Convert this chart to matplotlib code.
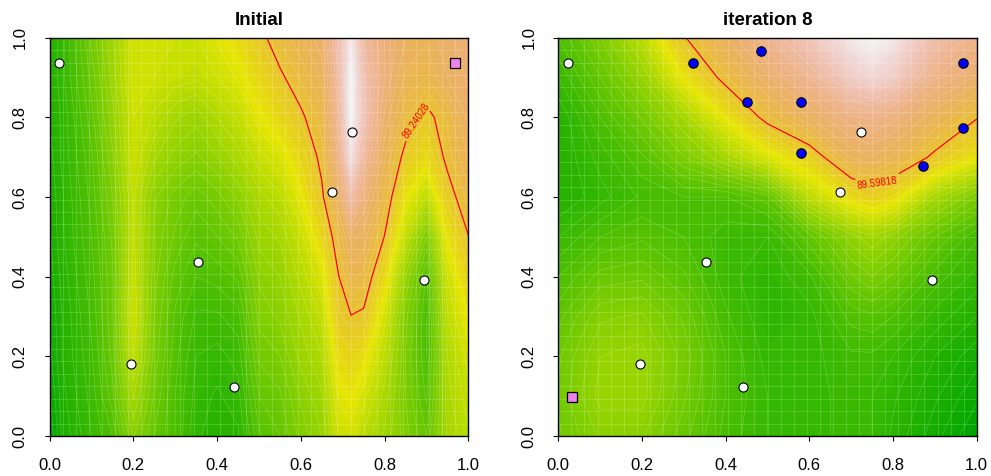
import colorsys
import numpy as np
import matplotlib
matplotlib.use("Agg")
import matplotlib.pyplot as plt

plt.rcParams['font.family'] = ['Liberation Sans', 'DejaVu Sans']

# ---- surface grids (rows follow grid_y, columns follow the panel's x grid) ----
grid_y = [0.0, 0.1, 0.2, 0.3, 0.4, 0.5, 0.6, 0.7, 0.8, 0.9, 1.0]

init_x = [0.0, 0.03, 0.1, 0.15, 0.2, 0.25, 0.3, 0.35, 0.4, 0.45, 0.5,
          0.55, 0.6, 0.65, 0.69, 0.72, 0.75, 0.8, 0.85, 0.9, 0.95, 1.0]
init_z = [
    [30, 38, 45, 50, 63, 55, 50, 43, 41, 42, 52, 55, 61, 65, 75, 76, 72, 67, 61, 55, 68, 72],
    [32, 39, 46, 54, 68, 57, 50, 44, 42, 44, 55, 57, 63, 67, 78, 80, 76, 69, 60, 52, 69, 74],
    [34, 40, 47, 56, 73, 59, 51, 45, 44, 46, 58, 60, 66, 70, 82, 84, 81, 72, 60, 50, 70, 76],
    [35, 40, 48, 57, 75, 60, 52, 47, 47, 49, 61, 63, 68, 73, 87, 89, 88, 76, 61, 50, 72, 80],
    [36, 41, 49, 57, 74, 61, 54, 50, 51, 53, 63, 65, 71, 77, 89, 96, 94, 82, 65, 52, 75, 84],
    [37, 42, 50, 58, 73, 62, 57, 53, 55, 58, 66, 68, 74, 83, 93, 101, 99, 89, 73, 60, 80, 89],
    [38, 42, 51, 60, 73, 63, 59, 56, 59, 63, 69, 72, 79, 88, 100, 114, 105, 94, 80, 72, 86, 94],
    [39, 43, 52, 62, 75, 68, 64, 62, 65, 69, 74, 77, 83, 91, 106, 125, 112, 98, 87, 82, 91, 98],
    [40, 43, 54, 64, 75, 72, 68, 66, 70, 73, 79, 83, 88, 94, 110, 130, 117, 102, 93, 87, 93, 101],
    [40, 44, 56, 66, 76, 75, 74, 73, 75, 78, 83, 88, 93, 98, 113, 130, 116, 105, 97, 95, 100, 103],
    [40, 44, 58, 67, 76, 76, 75, 75, 78, 82, 87, 93, 97, 102, 115, 127, 112, 105, 100, 98, 102, 104],
]

iter_x = [0.0, 0.1, 0.2, 0.3, 0.4, 0.5, 0.6, 0.7, 0.75, 0.8, 0.9, 1.0]
iter_z = [
    [57, 63, 63, 56, 49, 45, 44, 46, 45, 42, 36, 30],
    [58, 66, 66, 58, 50, 45, 44, 46, 45, 43, 38, 33],
    [57, 65, 66, 59, 50, 44, 44, 47, 47, 45, 40, 36],
    [54, 62, 63, 57, 48, 43, 44, 51, 52, 50, 44, 40],
    [50, 56, 57, 53, 46, 43, 47, 57, 60, 57, 49, 44],
    [45, 50, 52, 50, 46, 45, 54, 64, 67, 64, 55, 48],
    [40, 44, 48, 50, 50, 54, 72, 82, 85, 82, 68, 60],
    [40, 46, 52, 60, 68, 77, 85, 98, 100, 97, 88, 80],
    [40, 50, 58, 68, 80, 92, 100, 107, 108, 106, 98, 90],
    [45, 55, 65, 80, 92, 102, 110, 120, 123, 120, 108, 102],
    [50, 60, 72, 89, 100, 110, 118, 127, 130, 127, 115, 108],
]

# ---- design points ----
design_x = [0.023, 0.195, 0.354, 0.441, 0.674, 0.723, 0.894]
design_y = [0.936, 0.182, 0.438, 0.123, 0.613, 0.763, 0.392]
added_x = [0.323, 0.484, 0.451, 0.580, 0.580, 0.871, 0.968, 0.968]
added_y = [0.936, 0.967, 0.839, 0.839, 0.710, 0.678, 0.936, 0.774]
best_x = [0.967, 0.032]
best_y = [0.936, 0.097]

threshold = [89.24028, 89.59818]
label_pos = [(0.88, 0.79), (0.76, 0.643)]
titles = ['Initial', 'iteration 8']
z_low, z_high = 30, 130
ticks = [0.0, 0.2, 0.4, 0.6, 0.8, 1.0]


def terrain_colors(n):
    k = n // 2
    hs = list(np.linspace(4 / 12, 2 / 12, k)) + list(np.linspace(2 / 12, 0, n - k + 1)[1:])
    ss = list(np.linspace(1, 1, k)) + list(np.linspace(1, 0, n - k + 1)[1:])
    vs = list(np.linspace(0.65, 0.9, k)) + list(np.linspace(0.9, 0.95, n - k + 1)[1:])
    return [colorsys.hsv_to_rgb(h, s, v) for h, s, v in zip(hs, ss, vs)]


levels = np.linspace(z_low, z_high, 81)
band_colors = terrain_colors(len(levels) - 1)

fig = plt.figure(figsize=(9.91, 4.76), dpi=100)
rects = [[0.05, 0.084, 0.4226, 0.8368], [0.5634, 0.084, 0.4222, 0.8368]]
surfaces = [(init_x, init_z), (iter_x, iter_z)]

for i in range(2):
    ax = fig.add_axes(rects[i])
    xs, zs = surfaces[i]
    Z = np.array(zs, dtype=float)
    ax.contourf(xs, grid_y, Z, levels=levels, colors=band_colors)
    ax.contour(xs, grid_y, Z, levels=levels[::2], colors='white',
               linewidths=0.5, alpha=0.2)
    for g in np.linspace(0, 1, 33)[1:-1]:
        ax.axvline(g, color='white', lw=0.6, alpha=0.2)
        ax.axhline(g, color='white', lw=0.6, alpha=0.2)

    cs = ax.contour(xs, grid_y, Z, levels=[threshold[i]], colors='red',
                    linewidths=0.9)
    ax.clabel(cs, fmt='%.5f', fontsize=7, inline=True,
              manual=[label_pos[i]], inline_spacing=3)

    ax.plot(design_x, design_y, 'o', mfc='white', mec='black', ms=6.5,
            mew=0.8, zorder=5)
    if i == 1:
        ax.plot(added_x, added_y, 'o', mfc='blue', mec='black', ms=6.8,
                mew=0.8, zorder=5)
    ax.plot([best_x[i]], [best_y[i]], 's', mfc='violet', mec='black',
            ms=7.5, mew=0.9, zorder=6)

    ax.set_xlim(0, 1)
    ax.set_ylim(0, 1)
    ax.set_xticks(ticks)
    ax.set_yticks(ticks)
    ax.set_xticklabels([f'{t:.1f}' for t in ticks])
    ax.set_yticklabels([f'{t:.1f}' for t in ticks], rotation=90, va='center')
    ax.tick_params(direction='out', length=3.8, width=0.8, labelsize=12,
                   pad=12, colors='black')
    for sp in ax.spines.values():
        sp.set_linewidth(1.0)
    ax.set_title(titles[i], fontweight='bold', fontsize=13.5, pad=9)

fig.savefig('out.png', dpi=100)
